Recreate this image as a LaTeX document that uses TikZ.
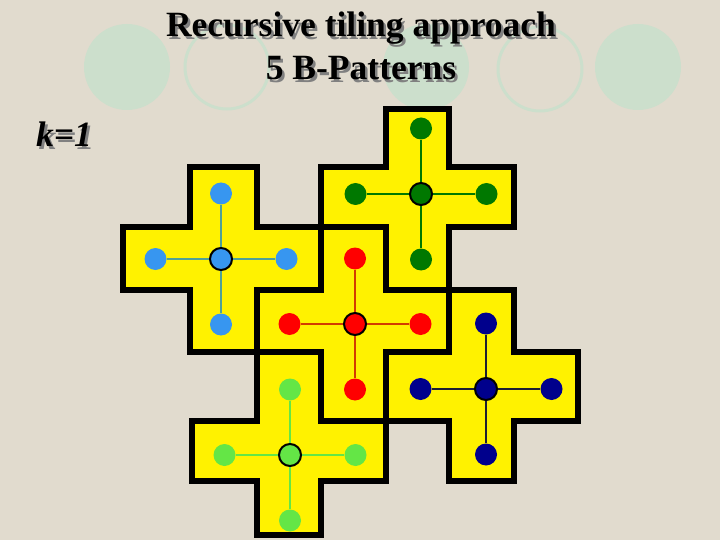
\documentclass[tikz,border=0pt]{standalone}
\usepackage{fontspec}
\setmainfont{Liberation Serif}
\usetikzlibrary{positioning}
\definecolor{paper}{RGB}{225,219,206}
\definecolor{mint}{RGB}{204,223,204}
\definecolor{skyblue}{RGB}{55,150,240}
\definecolor{tealline}{RGB}{80,160,150}
\definecolor{redline}{RGB}{210,60,0}
\definecolor{dgreen}{RGB}{0,120,0}
\definecolor{navy}{RGB}{0,0,140}
\definecolor{navyline}{RGB}{30,30,50}
\definecolor{lgreen}{RGB}{100,230,70}
\tikzstyle{tile} = [draw=black, fill=yellow, line width=6pt, line join=miter]
\tikzstyle{hub} = [circle, minimum size=22pt, inner sep=0pt, draw=black, line width=2pt]
\tikzstyle{leaf} = [circle, minimum size=22pt, inner sep=0pt]
\tikzstyle{spoke} = [line width=2pt]
\tikzstyle{heading} = [anchor=base, inner sep=0pt, font=\fontsize{35.5}{40}\selectfont\bfseries]
% text with a grey drop shadow
\newcommand{\shadowed}[1]{\makebox[0pt][l]{\kern2.5pt\raisebox{-2.5pt}{\textcolor{gray}{#1}}}#1}
% plus tile: x1 left, x2 x3 vertical arm, x4 right; y1 top, y2 y3 horizontal arm, y4 bottom
\newcommand{\plustile}[8]{\draw[tile] (#2,#5) -- (#3,#5) -- (#3,#6) -- (#4,#6) -- (#4,#7) -- (#3,#7) -- (#3,#8) -- (#2,#8) -- (#2,#7) -- (#1,#7) -- (#1,#6) -- (#2,#6) -- cycle;}

\begin{document}
\begin{tikzpicture}[x=1pt, y=-1pt, node distance=65.5pt, on grid]
        \useasboundingbox (0,0) rectangle (720,540);
        \fill[paper] (0,0) rectangle (720,540);
        %circles behind the title
        \fill[mint] (127,67) circle (43);
        \draw[mint, line width=3pt] (227,67) circle (42);
        \fill[mint] (426,67) circle (43);
        \draw[mint, line width=3pt] (540,69) circle (42);
        \fill[mint] (638,67) circle (43);
        %title and label
        \node (title1) [heading] at (361,37) {\shadowed{Recursive tiling approach}};
        \node (title2) [heading] at (361,80) {\shadowed{5 B-Patterns}};
        \node (k) [heading] at (64,147) {\itshape\shadowed{k=1}};
        %tiles
        \plustile{123}{190}{257}{321}{167}{227}{290}{352}
        \plustile{321}{386}{449}{514}{109}{167}{227}{290}
        \plustile{257}{321}{386}{449}{227}{290}{352}{421}
        \plustile{386}{449}{514}{578}{290}{352}{421}{481}
        \plustile{192}{257}{321}{386}{352}{421}{481}{535}
        %blue pattern
        \node (B) [hub, fill=skyblue] at (221,259) {};
        \node (Bn) [leaf, fill=skyblue, above=of B] {};
        \node (Bs) [leaf, fill=skyblue, below=of B] {};
        \node (Bw) [leaf, fill=skyblue, left=of B] {};
        \node (Be) [leaf, fill=skyblue, right=of B] {};
        %dark green pattern
        \node (G) [hub, fill=dgreen] at (421,194) {};
        \node (Gn) [leaf, fill=dgreen, above=of G] {};
        \node (Gs) [leaf, fill=dgreen, below=of G] {};
        \node (Gw) [leaf, fill=dgreen, left=of G] {};
        \node (Ge) [leaf, fill=dgreen, right=of G] {};
        %red pattern
        \node (R) [hub, fill=red] at (355,324) {};
        \node (Rn) [leaf, fill=red, above=of R] {};
        \node (Rs) [leaf, fill=red, below=of R] {};
        \node (Rw) [leaf, fill=red, left=of R] {};
        \node (Re) [leaf, fill=red, right=of R] {};
        %navy pattern
        \node (N) [hub, fill=navy] at (486,389) {};
        \node (Nn) [leaf, fill=navy, above=of N] {};
        \node (Ns) [leaf, fill=navy, below=of N] {};
        \node (Nw) [leaf, fill=navy, left=of N] {};
        \node (Ne) [leaf, fill=navy, right=of N] {};
        %light green pattern
        \node (L) [hub, fill=lgreen] at (290,455) {};
        \node (Ln) [leaf, fill=lgreen, above=of L] {};
        \node (Ls) [leaf, fill=lgreen, below=of L] {};
        \node (Lw) [leaf, fill=lgreen, left=of L] {};
        \node (Le) [leaf, fill=lgreen, right=of L] {};
        %spokes
        \draw [spoke, tealline] (B) -- (Bn);
        \draw [spoke, tealline] (B) -- (Bs);
        \draw [spoke, tealline] (B) -- (Bw);
        \draw [spoke, tealline] (B) -- (Be);
        \draw [spoke, dgreen] (G) -- (Gn);
        \draw [spoke, dgreen] (G) -- (Gs);
        \draw [spoke, dgreen] (G) -- (Gw);
        \draw [spoke, dgreen] (G) -- (Ge);
        \draw [spoke, redline] (R) -- (Rn);
        \draw [spoke, redline] (R) -- (Rs);
        \draw [spoke, redline] (R) -- (Rw);
        \draw [spoke, redline] (R) -- (Re);
        \draw [spoke, navyline] (N) -- (Nn);
        \draw [spoke, navyline] (N) -- (Ns);
        \draw [spoke, navyline] (N) -- (Nw);
        \draw [spoke, navyline] (N) -- (Ne);
        \draw [spoke, lgreen] (L) -- (Ln);
        \draw [spoke, lgreen] (L) -- (Ls);
        \draw [spoke, lgreen] (L) -- (Lw);
        \draw [spoke, lgreen] (L) -- (Le);
\end{tikzpicture}
\end{document}
